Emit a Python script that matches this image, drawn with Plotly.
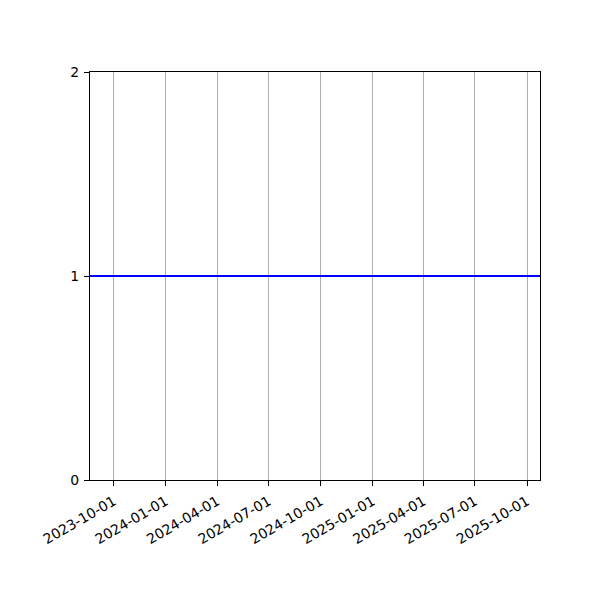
import plotly.graph_objects as go

# series: a flat line at 1 over the date range
dates = ["2023-08-20", "2025-10-24"]
values = [1, 1]

tick_dates = ["2023-10-01", "2024-01-01", "2024-04-01", "2024-07-01", "2024-10-01",
              "2025-01-01", "2025-04-01", "2025-07-01", "2025-10-01"]
y_ticks = [0, 1, 2]

fig = go.Figure(go.Scatter(
    x=dates, y=values, mode="lines",
    line=dict(color="blue", width=2),
))

# page body has an 8px margin, so shift the plot area back
fig.update_layout(
    width=600, height=600,
    margin=dict(l=82, r=68, t=64, b=128),
    paper_bgcolor="white", plot_bgcolor="white",
    font=dict(family="DejaVu Sans", size=14, color="black"),
    showlegend=False,
)

fig.update_xaxes(
    type="date",
    range=[dates[0], dates[-1]],
    tickvals=tick_dates, ticktext=tick_dates,
    tickangle=-30,
    ticks="outside", ticklen=5, tickcolor="black",
    ticklabelstandoff=2,
    showgrid=True, gridcolor="#b0b0b0", gridwidth=1,
    showline=True, linecolor="black", linewidth=1, mirror=True,
    zeroline=False, automargin=False,
)
fig.update_yaxes(
    range=[0, 2],
    tickvals=y_ticks,
    ticks="outside", ticklen=5, tickcolor="black",
    ticklabelstandoff=2,
    showgrid=False,
    showline=True, linecolor="black", linewidth=1, mirror=True,
    zeroline=False, automargin=False,
)

fig.write_html("out.html")
